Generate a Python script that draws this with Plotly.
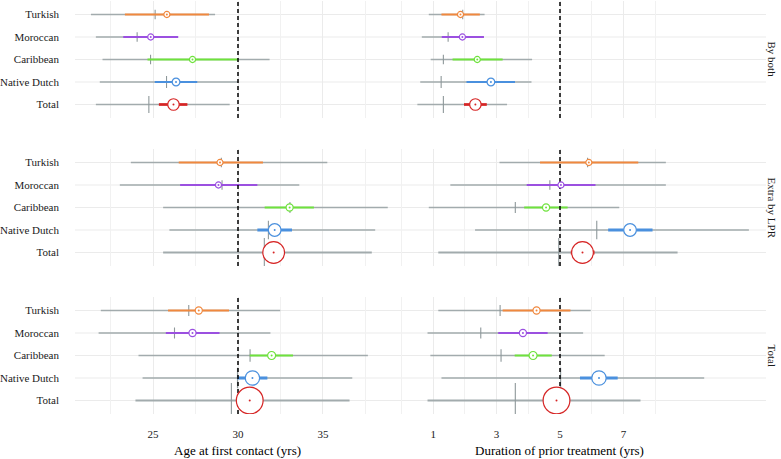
import math
import plotly.graph_objects as go

W, H = 781, 459

categories = ["Turkish", "Moroccan", "Caribbean", "Native Dutch", "Total"]
facets = ["By both", "Extra by LPR", "Total"]
colors = ["#F0883E", "#9B50E0", "#6EE23C", "#4A90DE", "#D62424"]

# estimated group sizes (drive circle size / line width)
n_both = [15, 15, 15, 40, 120]
n_lpr = [15, 15, 30, 150, 480]
n_total = [30, 30, 45, 200, 735]

# ---- Age at first contact (yrs) ----
age_both_mean = [25.81, 24.86, 27.32, 26.35, 26.20]
age_both_cilo = [23.34, 23.24, 24.67, 25.10, 25.34]
age_both_cihi = [28.29, 26.48, 30.02, 27.60, 27.02]
age_both_med = [25.12, 24.06, 24.85, 25.79, 24.75]
age_both_lo = [21.34, 21.63, 22.02, 21.86, 21.63]
age_both_hi = [28.65, 26.45, 31.86, 30.02, 29.51]

age_lpr_mean = [28.94, 28.85, 33.04, 32.16, 32.10]
age_lpr_cilo = [26.51, 26.59, 31.57, 31.14, 31.55]
age_lpr_cihi = [31.47, 31.14, 34.47, 33.18, 32.65]
age_lpr_med = [29.02, 29.06, 33.06, 31.79, 31.55]
age_lpr_lo = [23.69, 23.04, 25.59, 25.96, 25.59]
age_lpr_hi = [35.26, 33.61, 38.82, 38.08, 37.88]

age_total_mean = [27.69, 27.32, 31.98, 30.85, 30.69]
age_total_cilo = [25.88, 25.75, 30.69, 29.96, 30.25]
age_total_cihi = [29.47, 28.91, 33.24, 31.73, 31.13]
age_total_med = [27.10, 26.26, 30.71, 29.97, 29.61]
age_total_lo = [21.92, 21.79, 24.14, 24.38, 23.96]
age_total_hi = [32.49, 31.91, 37.65, 36.73, 36.57]

# ---- Duration of prior treatment (yrs) ----
dur_both_mean = [1.86, 1.92, 2.39, 2.82, 2.33]
dur_both_cilo = [1.26, 1.27, 1.61, 2.05, 1.97]
dur_both_cihi = [2.47, 2.60, 3.19, 3.58, 2.69]
dur_both_med = [1.93, 1.47, 1.32, 1.25, 1.32]
dur_both_lo = [0.86, 0.64, 0.92, 0.59, 0.50]
dur_both_hi = [2.62, 2.60, 4.12, 4.10, 3.33]

dur_lpr_mean = [5.91, 5.03, 4.56, 7.21, 5.71]
dur_lpr_cilo = [4.37, 3.95, 3.87, 6.52, 5.34]
dur_lpr_cihi = [7.47, 6.12, 5.24, 7.92, 6.09]
dur_lpr_med = [5.87, 4.68, 3.59, 6.16, 4.96]
dur_lpr_lo = [3.09, 1.54, 0.86, 2.32, 1.16]
dur_lpr_hi = [8.34, 8.34, 6.87, 10.96, 8.71]

dur_total_mean = [4.26, 3.83, 4.15, 6.23, 4.89]
dur_total_cilo = [3.19, 3.05, 3.57, 5.63, 4.62]
dur_total_cihi = [5.33, 4.61, 4.74, 6.82, 5.16]
dur_total_med = [3.11, 2.50, 3.14, 5.02, 3.59]
dur_total_lo = [1.16, 0.82, 0.91, 1.26, 0.82]
dur_total_hi = [5.97, 5.73, 6.41, 9.55, 7.54]

age_ticks = [25, 30, 35]
age_minor = [22.5, 27.5, 32.5, 37.5]
dur_ticks = [1, 3, 5, 7]
dur_minor = [0, 2, 4, 6, 8]
ref_lines = [30, 5]
x_titles = ["Age at first contact (yrs)", "Duration of prior treatment (yrs)"]

rows = [
    (n_both,
     dict(mean=age_both_mean, cilo=age_both_cilo, cihi=age_both_cihi, med=age_both_med, lo=age_both_lo, hi=age_both_hi),
     dict(mean=dur_both_mean, cilo=dur_both_cilo, cihi=dur_both_cihi, med=dur_both_med, lo=dur_both_lo, hi=dur_both_hi)),
    (n_lpr,
     dict(mean=age_lpr_mean, cilo=age_lpr_cilo, cihi=age_lpr_cihi, med=age_lpr_med, lo=age_lpr_lo, hi=age_lpr_hi),
     dict(mean=dur_lpr_mean, cilo=dur_lpr_cilo, cihi=dur_lpr_cihi, med=dur_lpr_med, lo=dur_lpr_lo, hi=dur_lpr_hi)),
    (n_total,
     dict(mean=age_total_mean, cilo=age_total_cilo, cihi=age_total_cihi, med=age_total_med, lo=age_total_lo, hi=age_total_hi),
     dict(mean=dur_total_mean, cilo=dur_total_cilo, cihi=dur_total_cihi, med=dur_total_med, lo=dur_total_lo, hi=dur_total_hi)),
]

FONT = "Liberation Serif"
TXT = "#1A1A1A"
GRID = "#EBEBEB"
GREY = "#A2ABAD"
MEDC = "#8E989A"

ypos = [5, 4, 3, 2, 1]
YR = [0.4, 5.6]
px_per_unit = 22.5

x_dom_px = [(75, 401), (354, 766)]
x_ranges = [[20.4, 39.6], [-1.5, 11.5]]
y_dom_px = [(1, 118), (149, 266), (297, 414)]

fig = go.Figure()
layout = {}
shapes = []

for r, (nvals, left, right) in enumerate(rows):
    for c, d in enumerate([left, right]):
        idx = r * 2 + c + 1
        xa = "x" if idx == 1 else f"x{idx}"
        ya = "y" if idx == 1 else f"y{idx}"
        # grey range lines
        for i in range(5):
            n = nvals[i]
            fig.add_trace(go.Scatter(
                x=[d["lo"][i], d["hi"][i]], y=[ypos[i], ypos[i]], mode="lines",
                line=dict(color=GREY, width=1.2 + 1.0 * math.sqrt(n / 735)),
                xaxis=xa, yaxis=ya, showlegend=False, hoverinfo="skip"))
        # median ticks
        for i in range(5):
            n = nvals[i]
            h = (5 + 1.1 * math.sqrt(n)) / 2 / px_per_unit
            fig.add_trace(go.Scatter(
                x=[d["med"][i], d["med"][i]], y=[ypos[i] - h, ypos[i] + h], mode="lines",
                line=dict(color=MEDC, width=1.1),
                xaxis=xa, yaxis=ya, showlegend=False, hoverinfo="skip"))
        # CI lines
        for i in range(5):
            n = nvals[i]
            fig.add_trace(go.Scatter(
                x=[d["cilo"][i], d["cihi"][i]], y=[ypos[i], ypos[i]], mode="lines",
                line=dict(color=colors[i], width=1.5 + 3.0 * math.sqrt(n / 735)),
                xaxis=xa, yaxis=ya, showlegend=False, hoverinfo="skip"))
        # reference dashed line
        fig.add_trace(go.Scatter(
            x=[ref_lines[c], ref_lines[c]], y=YR, mode="lines",
            line=dict(color="black", width=1.5, dash="4px,3px"),
            xaxis=xa, yaxis=ya, showlegend=False, hoverinfo="skip"))
        # mean circles
        sizes = [math.sqrt(36 + n) - 1 for n in nvals]
        fig.add_trace(go.Scatter(
            x=d["mean"], y=ypos, mode="markers",
            marker=dict(size=sizes, color="white", symbol="circle", opacity=1,
                        line=dict(color=colors, width=1.2)),
            xaxis=xa, yaxis=ya, showlegend=False, hoverinfo="skip"))
        fig.add_trace(go.Scatter(
            x=d["mean"], y=ypos, mode="markers",
            marker=dict(size=2, color=colors, opacity=1),
            xaxis=xa, yaxis=ya, showlegend=False, hoverinfo="skip"))

        xk = "xaxis" if idx == 1 else f"xaxis{idx}"
        yk = "yaxis" if idx == 1 else f"yaxis{idx}"
        x0, x1 = x_dom_px[c]
        y0, y1 = y_dom_px[r]
        layout[xk] = dict(
            domain=[x0 / W, x1 / W], anchor=ya, range=x_ranges[c],
            tickmode="array", tickvals=age_ticks if c == 0 else dur_ticks,
            showticklabels=(r == 2), ticks="", ticklabelstandoff=12,
            tickfont=dict(family=FONT, size=11, color=TXT),
            showgrid=True, gridcolor=GRID, gridwidth=1,
            minor=dict(tickmode="array", tickvals=age_minor if c == 0 else dur_minor,
                       showgrid=True, gridcolor="#F1F1F1", gridwidth=0.8, ticks=""),
            zeroline=False, showline=False, fixedrange=True)
        layout[yk] = dict(
            domain=[1 - y1 / H, 1 - y0 / H], anchor=xa, range=YR,
            tickmode="array", tickvals=ypos, ticktext=categories,
            showticklabels=(c == 0), ticks="", ticklabelstandoff=15,
            tickfont=dict(family=FONT, size=11, color=TXT),
            showgrid=False, zeroline=False, showline=False, fixedrange=True)
        if c == 0:
            for yv in ypos:
                shapes.append(dict(type="line", xref="paper", yref=ya,
                                   x0=75 / W, x1=766 / W, y0=yv, y1=yv,
                                   line=dict(color=GRID, width=1), layer="below"))

annotations = []
for c, t in enumerate(x_titles):
    cx = [237.5, 559.0][c]
    annotations.append(dict(text=t, xref="paper", yref="paper", x=cx / W, y=1 - 450 / H,
                            xanchor="center", yanchor="middle", showarrow=False,
                            font=dict(family=FONT, size=13, color="black")))
for r, f in enumerate(facets):
    y0, y1 = y_dom_px[r]
    annotations.append(dict(text=f, xref="paper", yref="paper", x=772 / W,
                            y=1 - (y0 + y1) / 2 / H, xanchor="center", yanchor="middle",
                            textangle=90, showarrow=False,
                            font=dict(family=FONT, size=11, color=TXT)))

fig.update_layout(
    width=W, height=H, margin=dict(l=0, r=0, t=0, b=0),
    paper_bgcolor="white", plot_bgcolor="rgba(0,0,0,0)",
    shapes=shapes, annotations=annotations, showlegend=False,
    **layout)

fig.write_html("out.html", config={"displayModeBar": False},
               post_script="document.body.style.margin='0';document.body.style.padding='0';document.body.style.overflow='hidden';")
